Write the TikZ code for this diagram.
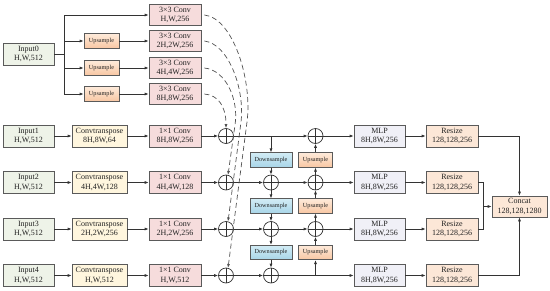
\documentclass[tikz,border=0pt]{standalone}
\usepackage{fontspec}
\setmainfont{Liberation Serif}
\usetikzlibrary{arrows.meta,calc}
\definecolor{bordc}{HTML}{5A5A5A}
\definecolor{linec}{HTML}{333333}
\definecolor{txtc}{HTML}{222222}
\definecolor{inc}{HTML}{EEF3E8}
\definecolor{ctc}{HTML}{FFF6DE}
\definecolor{cvc}{HTML}{F6DCDC}
\definecolor{mlpc}{HTML}{F0F0F7}
\definecolor{rsc}{HTML}{FCE7D7}
\definecolor{dstop}{HTML}{D2ECF5}
\definecolor{dsbot}{HTML}{A8D5E8}
\definecolor{ustop}{HTML}{FEEADA}
\definecolor{usbot}{HTML}{F8C7A3}
\tikzset{
  box/.style={draw=bordc, line width=0.7pt, inner sep=0pt, align=center,
    font=\fontsize{8}{9.3}\selectfont, text=txtc},
  inbox/.style={box, fill=inc, minimum width=51pt, minimum height=22pt},
  ctbox/.style={box, fill=ctc, minimum width=55pt, minimum height=22pt},
  cvbox/.style={box, fill=cvc, minimum width=52pt, minimum height=21.5pt},
  mlpbox/.style={box, fill=mlpc, minimum width=51pt, minimum height=22pt},
  rsbox/.style={box, fill=rsc, minimum width=52pt, minimum height=22pt},
  smallbox/.style={box, font=\fontsize{6.2}{7}\selectfont, minimum height=14.5pt},
  upbox/.style={smallbox, top color=ustop, bottom color=usbot, minimum width=35pt},
  usbox/.style={smallbox, top color=ustop, bottom color=usbot, minimum width=34pt},
  dsbox/.style={smallbox, top color=dstop, bottom color=dsbot, minimum width=42pt},
  plusnode/.style={circle, draw=linec, line width=0.7pt, minimum size=15pt, inner sep=0pt,
    path picture={\draw[line width=0.7pt, draw=linec]
      (path picture bounding box.north) -- (path picture bounding box.south)
      (path picture bounding box.west) -- (path picture bounding box.east);}},
  arr/.style={-{Latex[length=4pt,width=3pt]}, line width=0.7pt, draw=linec},
  ln/.style={line width=0.7pt, draw=linec},
  dsh/.style={arr, draw=linec!85, dash pattern=on 5pt off 3.2pt},
}
\begin{document}
\begin{tikzpicture}[x=1pt,y=-1pt]
\useasboundingbox (0,0) rectangle (550,290);
% top branch
\node[inbox] (in0) at (28.5,54) {Input0\\H,W,512};
\node[upbox] (u2) at (101.5,41) {Upsample};
\node[upbox] (u4) at (101.5,68) {Upsample};
\node[upbox] (u8) at (101.5,94) {Upsample};
\node[cvbox] (c1) at (175,15) {3×3 Conv\\H,W,256};
\node[cvbox] (c2) at (175,41) {3×3 Conv\\2H,2W,256};
\node[cvbox] (c4) at (175,68) {3×3 Conv\\4H,4W,256};
\node[cvbox] (c8) at (175,94) {3×3 Conv\\8H,8W,256};
\coordinate (bx) at (64,54);
\draw[ln] (in0.east) -- (bx);
\draw[ln] (bx |- c1) -- (bx |- c8);
\draw[arr] (bx |- c1) -- (c1);
\draw[arr] (bx |- u2) -- (u2);
\draw[arr] (bx |- u4) -- (u4);
\draw[arr] (bx |- u8) -- (u8);
\draw[arr] (u2) -- (c2);
\draw[arr] (u4) -- (c4);
\draw[arr] (u8) -- (c8);
% rows
\node[inbox] (in1) at (28.5,136) {Input1\\H,W,512};
\node[inbox] (in2) at (28.5,182.5) {Input2\\H,W,512};
\node[inbox] (in3) at (28.5,229) {Input3\\H,W,512};
\node[inbox] (in4) at (28.5,275.5) {Input4\\H,W,512};
\node[ctbox] (ct1) at (99.5,136) {Convtranspose\\8H,8W,64};
\node[ctbox] (ct2) at (99.5,182.5) {Convtranspose\\4H,4W,128};
\node[ctbox] (ct3) at (99.5,229) {Convtranspose\\2H,2W,256};
\node[ctbox] (ct4) at (99.5,275.5) {Convtranspose\\H,W,512};
\node[cvbox, minimum height=22pt] (cv1) at (175,136) {1×1 Conv\\8H,8W,256};
\node[cvbox, minimum height=22pt] (cv2) at (175,182.5) {1×1 Conv\\4H,4W,128};
\node[cvbox, minimum height=22pt] (cv3) at (175,229) {1×1 Conv\\2H,2W,256};
\node[cvbox, minimum height=22pt] (cv4) at (175,275.5) {1×1 Conv\\H,W,512};
\node[plusnode] (p11) at (226,136) {};
\node[plusnode] (p12) at (226,182.5) {};
\node[plusnode] (p13) at (226,229) {};
\node[plusnode] (p14) at (226,275.5) {};
\node[plusnode] (p22) at (271,182.5) {};
\node[plusnode] (p23) at (271,229) {};
\node[plusnode] (p24) at (271,275.5) {};
\node[plusnode] (p31) at (315.5,136) {};
\node[plusnode] (p32) at (315.5,182.5) {};
\node[plusnode] (p33) at (315.5,229) {};
\node[dsbox] (ds1) at (271,160) {Downsample};
\node[dsbox] (ds2) at (271,206) {Downsample};
\node[dsbox] (ds3) at (271,252.5) {Downsample};
\node[usbox] (us1) at (315.5,160) {Upsample};
\node[usbox] (us2) at (315.5,206) {Upsample};
\node[usbox] (us3) at (315.5,252.5) {Upsample};
\node[mlpbox] (m1) at (379.5,136) {MLP\\8H,8W,256};
\node[mlpbox] (m2) at (379.5,182.5) {MLP\\8H,8W,256};
\node[mlpbox] (m3) at (379.5,229) {MLP\\8H,8W,256};
\node[mlpbox] (m4) at (379.5,275.5) {MLP\\8H,8W,256};
\node[rsbox] (r1) at (452,136) {Resize\\128,128,256};
\node[rsbox] (r2) at (452,182.5) {Resize\\128,128,256};
\node[rsbox] (r3) at (452,229) {Resize\\128,128,256};
\node[rsbox] (r4) at (452,275.5) {Resize\\128,128,256};
\node[rsbox, minimum width=55pt, minimum height=21pt] (cc) at (519.5,206.5) {Concat\\128,128,1280};
% row connectors
\foreach \i in {1,2,3,4}{
  \draw[arr] (in\i) -- (ct\i);
  \draw[arr] (ct\i) -- (cv\i);
  \draw[arr] (cv\i) -- (p1\i);
  \draw[arr] (m\i) -- (r\i);
}
\draw[arr] (p11) -- (p31);
\draw[arr] (p31) -- (m1);
\draw[arr] (p12) -- (p22);
\draw[arr] (p22) -- (p32);
\draw[arr] (p32) -- (m2);
\draw[arr] (p13) -- (p23);
\draw[arr] (p23) -- (p33);
\draw[arr] (p33) -- (m3);
\draw[arr] (p14) -- (p24);
\draw[arr] (p24) -- (m4);
% downsample column
\draw[arr] (ds1 |- p11) -- (ds1);
\draw[arr] (ds1) -- (p22);
\draw[arr] (p22) -- (ds2);
\draw[arr] (ds2) -- (p23);
\draw[arr] (p23) -- (ds3);
\draw[arr] (ds3) -- (p24);
% upsample column
\draw[arr] (us3 |- p24) -- (us3);
\draw[arr] (us3) -- (p33);
\draw[arr] (p33) -- (us2);
\draw[arr] (us2) -- (p32);
\draw[arr] (p32) -- (us1);
\draw[arr] (us1) -- (p31);
% resize to concat
\coordinate (j) at (483,206.5);
\draw[ln] (r2.east) -| (j |- r3) -- (r3.east);
\draw[arr] (cc.west -| j) -- (cc.west);
\draw[arr] (r1.east) -| (cc.north);
\draw[arr] (r4.east) -| (cc.south);
% dashed skip connections
\draw[dsh] ($(c8.east)+(3,0)$) .. controls (218,95) and (226,106) .. (p11.north);
\draw[dsh] ($(c4.east)+(3,0)$) .. controls (226,70) and (239,100) .. (235,125) -- (p12.75);
\draw[dsh] ($(c2.east)+(3,0)$) .. controls (229,44) and (245,90) .. (241,122) -- (p13.75);
\draw[dsh] ($(c1.east)+(3,0)$) .. controls (233,18) and (252.5,80) .. (247,122) -- (p14.75);
\end{tikzpicture}
\end{document}
